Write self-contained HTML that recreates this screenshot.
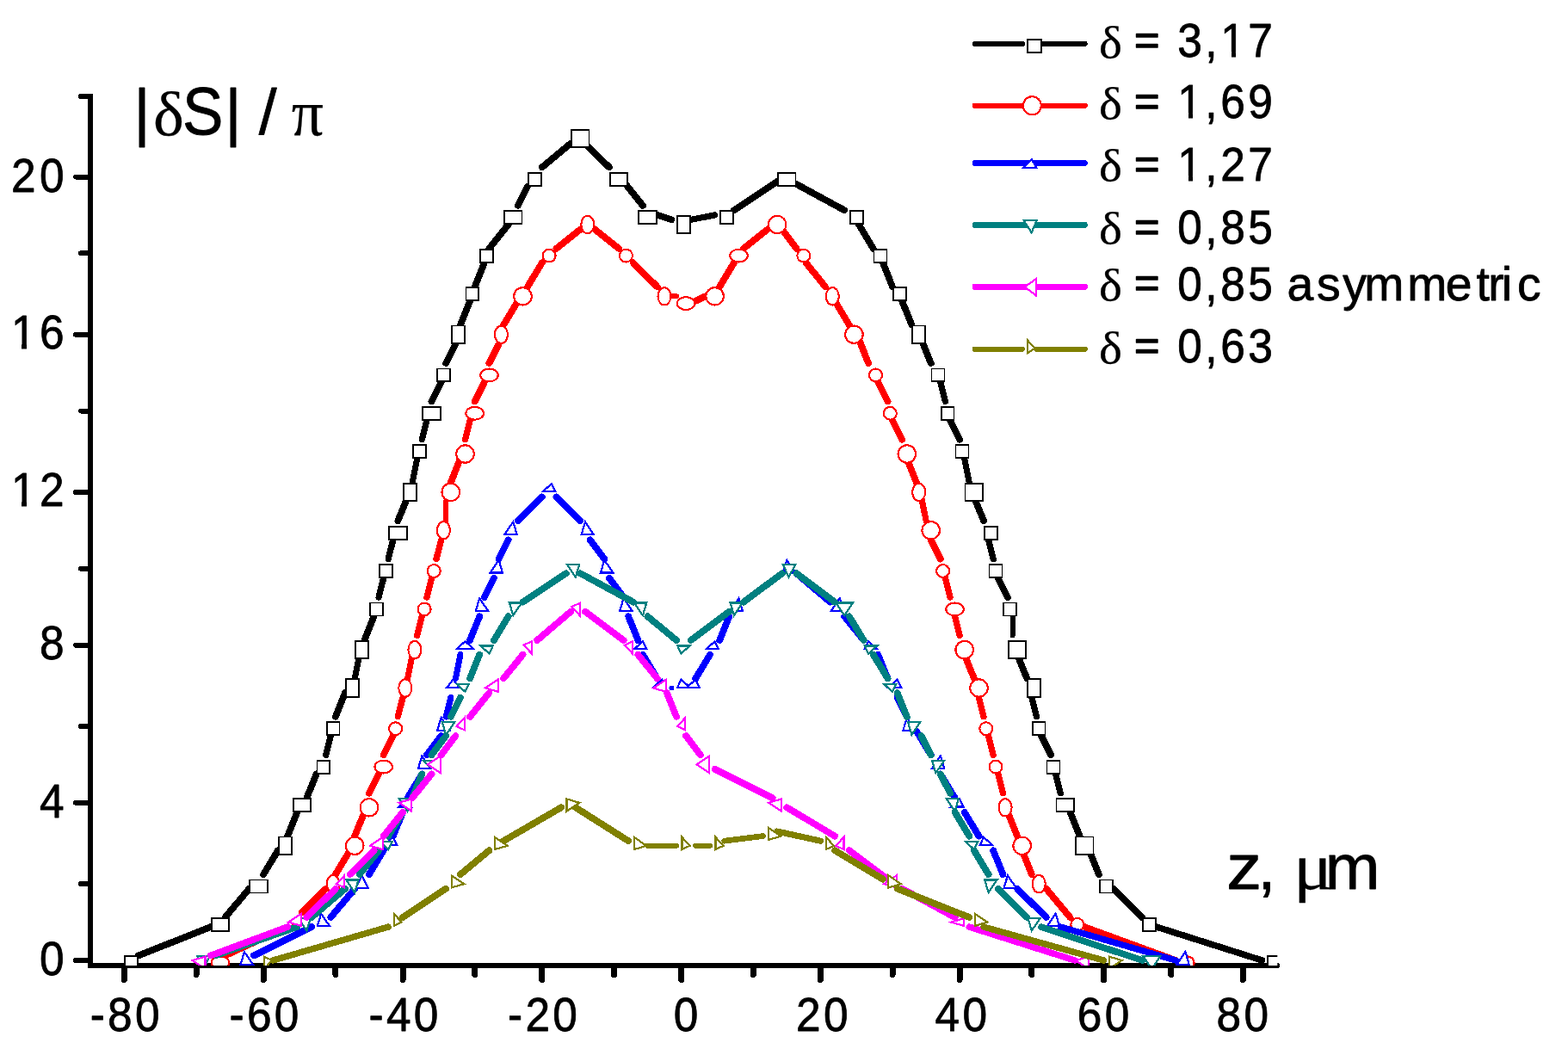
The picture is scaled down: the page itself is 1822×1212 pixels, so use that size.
<!DOCTYPE html>
<html lang="en"><head><meta charset="utf-8"><title>|δS| / π versus z</title>
<style>html,body{margin:0;padding:0;background:#fff}body{width:1822px;height:1212px;overflow:hidden}svg{display:block}text{font-family:"Liberation Sans",sans-serif;fill:#000;stroke:#000;stroke-width:0.8px;stroke-linejoin:round}.sy{font-family:"Liberation Serif",serif;stroke-width:0.25px}</style></head>
<body>
<svg width="1822" height="1212" viewBox="0 0 1822 1212" shape-rendering="crispEdges">
<rect width="1822" height="1212" fill="#fff"/>
<defs><clipPath id="pc"><rect x="105" y="100" width="1379.3" height="1022"/></clipPath></defs>
<rect x="102.1" y="109" width="5.8" height="1016" fill="#000"/><path d="M105 1122 H1484" stroke="#000" stroke-width="5.9" fill="none" stroke-linecap="round"/><g stroke="#000" stroke-width="7" stroke-linecap="round"><line x1="144.4" y1="1124" x2="144.4" y2="1138.5"/><line x1="306.2" y1="1124" x2="306.2" y2="1138.5"/><line x1="468" y1="1124" x2="468" y2="1138.5"/><line x1="629.8" y1="1124" x2="629.8" y2="1138.5"/><line x1="791.6" y1="1124" x2="791.6" y2="1138.5"/><line x1="953.4" y1="1124" x2="953.4" y2="1138.5"/><line x1="1115.1" y1="1124" x2="1115.1" y2="1138.5"/><line x1="1282.5" y1="1124" x2="1282.5" y2="1138.5"/><line x1="1444.3" y1="1124" x2="1444.3" y2="1138.5"/><line x1="228.1" y1="1124" x2="228.1" y2="1132.5"/><line x1="389.9" y1="1124" x2="389.9" y2="1132.5"/><line x1="551.7" y1="1124" x2="551.7" y2="1132.5"/><line x1="713.5" y1="1124" x2="713.5" y2="1132.5"/><line x1="875.2" y1="1124" x2="875.2" y2="1132.5"/><line x1="1037" y1="1124" x2="1037" y2="1132.5"/><line x1="1198.8" y1="1124" x2="1198.8" y2="1132.5"/><line x1="1360.6" y1="1124" x2="1360.6" y2="1132.5"/></g><g stroke="#000" stroke-width="6" stroke-linecap="round"><line x1="88" y1="1116" x2="104" y2="1116"/><line x1="88" y1="932.8" x2="104" y2="932.8"/><line x1="88" y1="749.6" x2="104" y2="749.6"/><line x1="88" y1="571.9" x2="104" y2="571.9"/><line x1="88" y1="388.7" x2="104" y2="388.7"/><line x1="88" y1="205.5" x2="104" y2="205.5"/><line x1="94" y1="1027.2" x2="104" y2="1027.2"/><line x1="94" y1="844" x2="104" y2="844"/><line x1="94" y1="660.7" x2="104" y2="660.7"/><line x1="94" y1="477.5" x2="104" y2="477.5"/><line x1="94" y1="294.3" x2="104" y2="294.3"/><line x1="94" y1="111.9" x2="104" y2="111.9"/></g>
<g clip-path="url(#pc)"><g stroke="#000" stroke-linecap="round" fill="none"><line x1="161.1" y1="1110.4" x2="244.8" y2="1077.1" stroke-width="7.8"/><line x1="261.6" y1="1066" x2="289.5" y2="1032.7" stroke-width="7.8"/><line x1="306.2" y1="1016.1" x2="322.9" y2="988.3" stroke-width="7.8"/><line x1="334.1" y1="971.6" x2="345.2" y2="943.9" stroke-width="7.8"/><line x1="356.4" y1="927.2" x2="367.6" y2="899.5" stroke-width="7.8"/><line x1="378.7" y1="877.3" x2="384.3" y2="855.1" stroke-width="7.3"/><line x1="389.9" y1="832.8" x2="401" y2="805.1" stroke-width="7.8"/><line x1="412.2" y1="788.4" x2="417.8" y2="760.7" stroke-width="7.1"/><line x1="423.4" y1="744" x2="434.5" y2="716.3" stroke-width="7.8"/><line x1="440.1" y1="694" x2="445.7" y2="671.8" stroke-width="7.3"/><line x1="451.2" y1="649.6" x2="456.8" y2="627.4" stroke-width="7.3"/><line x1="462.4" y1="605.2" x2="473.6" y2="577.5" stroke-width="7.8"/><line x1="479.1" y1="560.8" x2="484.7" y2="533" stroke-width="7.1"/><line x1="490.3" y1="510.8" x2="495.9" y2="488.6" stroke-width="7.3"/><line x1="501.5" y1="466.4" x2="512.6" y2="444.2" stroke-width="7.8"/><line x1="518.2" y1="422" x2="529.4" y2="399.8" stroke-width="7.8"/><line x1="534.9" y1="377.6" x2="546.1" y2="349.8" stroke-width="7.8"/><line x1="551.7" y1="333.2" x2="562.8" y2="305.4" stroke-width="7.8"/><line x1="568.4" y1="288.8" x2="590.7" y2="261" stroke-width="7.8"/><line x1="601.9" y1="238.8" x2="613" y2="216.6" stroke-width="7.8"/><line x1="629.8" y1="194.4" x2="663.2" y2="166.6" stroke-width="7.8"/><line x1="680" y1="166.6" x2="707.9" y2="194.4" stroke-width="7.8"/><line x1="724.6" y1="211" x2="746.9" y2="238.8" stroke-width="7.8"/><line x1="763.7" y1="249.9" x2="780.4" y2="255.4" stroke-width="7.6"/><line x1="802.7" y1="255.4" x2="830.6" y2="249.9" stroke-width="7.1"/><line x1="852.9" y1="244.3" x2="903.1" y2="211" stroke-width="7.8"/><line x1="919.9" y1="211" x2="981.2" y2="244.3" stroke-width="7.8"/><line x1="998" y1="261" x2="1014.7" y2="288.8" stroke-width="7.8"/><line x1="1025.9" y1="305.4" x2="1037" y2="333.2" stroke-width="7.8"/><line x1="1048.2" y1="349.8" x2="1059.4" y2="377.6" stroke-width="7.8"/><line x1="1070.5" y1="394.2" x2="1081.7" y2="422" stroke-width="7.8"/><line x1="1092.8" y1="444.2" x2="1098.4" y2="466.4" stroke-width="7.3"/><line x1="1104" y1="488.6" x2="1115.1" y2="510.8" stroke-width="7.8"/><line x1="1120.7" y1="533" x2="1126.3" y2="560.8" stroke-width="7.1"/><line x1="1131.9" y1="577.5" x2="1143" y2="605.2" stroke-width="7.8"/><line x1="1148.6" y1="627.4" x2="1154.2" y2="649.6" stroke-width="7.3"/><line x1="1159.8" y1="671.8" x2="1170.9" y2="694" stroke-width="7.8"/><line x1="1176.5" y1="716.3" x2="1176.5" y2="738.5" stroke-width="6"/><line x1="1182.1" y1="760.7" x2="1193.3" y2="788.4" stroke-width="7.8"/><line x1="1198.8" y1="810.6" x2="1204.4" y2="832.8" stroke-width="7.3"/><line x1="1210" y1="855.1" x2="1221.1" y2="877.3" stroke-width="7.8"/><line x1="1226.7" y1="899.5" x2="1232.3" y2="921.7" stroke-width="7.3"/><line x1="1243.5" y1="943.9" x2="1254.6" y2="971.6" stroke-width="7.8"/><line x1="1265.8" y1="988.3" x2="1276.9" y2="1016.1" stroke-width="7.8"/><line x1="1293.7" y1="1032.7" x2="1327.1" y2="1066" stroke-width="7.8"/><line x1="1343.9" y1="1077.1" x2="1466.6" y2="1116" stroke-width="7.5"/></g><g fill="#fff" stroke="#000" stroke-width="1.8"><rect x="145.3" y="1111.3" width="14.9" height="14.9"/><rect x="245.7" y="1066.9" width="20.5" height="14.9"/><rect x="290.4" y="1022.5" width="20.5" height="14.9"/><rect x="323.8" y="972.5" width="14.9" height="20.4"/><rect x="340.6" y="928.1" width="20.5" height="14.9"/><rect x="368.5" y="883.7" width="14.9" height="14.9"/><rect x="379.6" y="839.3" width="14.9" height="14.9"/><rect x="401.9" y="789.3" width="14.9" height="20.4"/><rect x="413.1" y="744.9" width="14.9" height="20.4"/><rect x="429.8" y="700.5" width="14.9" height="14.9"/><rect x="441" y="656.1" width="14.9" height="14.9"/><rect x="452.1" y="611.7" width="20.5" height="14.9"/><rect x="468.9" y="561.7" width="14.9" height="20.4"/><rect x="480" y="517.3" width="14.9" height="14.9"/><rect x="491.2" y="472.9" width="20.5" height="14.9"/><rect x="507.9" y="428.5" width="14.9" height="14.9"/><rect x="524.7" y="378.5" width="14.9" height="20.4"/><rect x="541.4" y="334.1" width="14.9" height="14.9"/><rect x="558.1" y="289.7" width="14.9" height="14.9"/><rect x="586" y="245.2" width="20.5" height="14.9"/><rect x="613.9" y="200.8" width="14.9" height="14.9"/><rect x="664.1" y="150.9" width="20.5" height="20.4"/><rect x="708.8" y="200.8" width="20.5" height="14.9"/><rect x="742.3" y="245.2" width="20.5" height="14.9"/><rect x="786.9" y="250.8" width="14.9" height="20.4"/><rect x="837.1" y="245.2" width="14.9" height="14.9"/><rect x="904" y="200.8" width="20.5" height="14.9"/><rect x="987.7" y="245.2" width="14.9" height="14.9"/><rect x="1015.6" y="289.7" width="14.9" height="14.9"/><rect x="1037.9" y="334.1" width="14.9" height="14.9"/><rect x="1060.3" y="378.5" width="14.9" height="20.4"/><rect x="1082.6" y="428.5" width="14.9" height="14.9"/><rect x="1093.7" y="472.9" width="14.9" height="14.9"/><rect x="1110.5" y="517.3" width="14.9" height="14.9"/><rect x="1121.6" y="561.7" width="20.5" height="20.4"/><rect x="1143.9" y="611.7" width="14.9" height="14.9"/><rect x="1149.5" y="656.1" width="14.9" height="14.9"/><rect x="1166.3" y="700.5" width="14.9" height="14.9"/><rect x="1171.8" y="744.9" width="20.5" height="20.4"/><rect x="1194.2" y="789.3" width="14.9" height="20.4"/><rect x="1199.7" y="839.3" width="14.9" height="14.9"/><rect x="1216.5" y="883.7" width="14.9" height="14.9"/><rect x="1227.6" y="928.1" width="20.5" height="14.9"/><rect x="1249.9" y="972.5" width="20.5" height="20.4"/><rect x="1277.8" y="1022.5" width="14.9" height="14.9"/><rect x="1328" y="1066.9" width="14.9" height="14.9"/><rect x="1473.1" y="1111.3" width="14.9" height="14.9"/></g><g stroke="#f00" stroke-linecap="round" fill="none"><line x1="261.6" y1="1110.4" x2="334.1" y2="1077.1" stroke-width="7.8"/><line x1="350.8" y1="1060.5" x2="378.7" y2="1032.7" stroke-width="7.8"/><line x1="389.9" y1="1016.1" x2="406.6" y2="988.3" stroke-width="7.8"/><line x1="412.2" y1="971.6" x2="423.4" y2="943.9" stroke-width="7.8"/><line x1="428.9" y1="921.7" x2="440.1" y2="899.5" stroke-width="7.8"/><line x1="445.7" y1="877.3" x2="456.8" y2="855.1" stroke-width="7.8"/><line x1="462.4" y1="832.8" x2="468" y2="810.6" stroke-width="7.3"/><line x1="473.6" y1="788.4" x2="479.1" y2="760.7" stroke-width="7.1"/><line x1="484.7" y1="738.5" x2="490.3" y2="716.3" stroke-width="7.3"/><line x1="495.9" y1="694" x2="501.5" y2="671.8" stroke-width="7.3"/><line x1="507" y1="649.6" x2="512.6" y2="627.4" stroke-width="7.3"/><line x1="518.2" y1="605.2" x2="518.2" y2="583" stroke-width="6"/><line x1="523.8" y1="560.8" x2="534.9" y2="533" stroke-width="7.8"/><line x1="540.5" y1="510.8" x2="546.1" y2="488.6" stroke-width="7.3"/><line x1="551.7" y1="466.4" x2="562.8" y2="444.2" stroke-width="7.8"/><line x1="568.4" y1="422" x2="579.6" y2="399.8" stroke-width="7.8"/><line x1="585.1" y1="377.6" x2="601.9" y2="349.8" stroke-width="7.8"/><line x1="613" y1="333.2" x2="629.8" y2="305.4" stroke-width="7.8"/><line x1="646.5" y1="288.8" x2="674.4" y2="266.5" stroke-width="7.8"/><line x1="691.1" y1="266.5" x2="719" y2="288.8" stroke-width="7.8"/><line x1="735.8" y1="305.4" x2="763.7" y2="333.2" stroke-width="7.8"/><line x1="780.4" y1="344.3" x2="786" y2="344.3" stroke-width="6"/><line x1="808.3" y1="349.8" x2="819.5" y2="344.3" stroke-width="7.8"/><line x1="836.2" y1="333.2" x2="852.9" y2="305.4" stroke-width="7.8"/><line x1="864.1" y1="288.8" x2="892" y2="266.5" stroke-width="7.8"/><line x1="908.7" y1="266.5" x2="925.5" y2="288.8" stroke-width="7.8"/><line x1="936.6" y1="305.4" x2="958.9" y2="333.2" stroke-width="7.8"/><line x1="970.1" y1="349.8" x2="986.8" y2="377.6" stroke-width="7.8"/><line x1="998" y1="394.2" x2="1009.1" y2="422" stroke-width="7.8"/><line x1="1020.3" y1="444.2" x2="1031.5" y2="466.4" stroke-width="7.8"/><line x1="1037" y1="488.6" x2="1048.2" y2="510.8" stroke-width="7.8"/><line x1="1053.8" y1="533" x2="1064.9" y2="560.8" stroke-width="7.8"/><line x1="1070.5" y1="577.5" x2="1076.1" y2="605.2" stroke-width="7.1"/><line x1="1081.7" y1="627.4" x2="1092.8" y2="649.6" stroke-width="7.8"/><line x1="1098.4" y1="671.8" x2="1104" y2="694" stroke-width="7.3"/><line x1="1109.6" y1="716.3" x2="1115.1" y2="738.5" stroke-width="7.3"/><line x1="1120.7" y1="760.7" x2="1131.9" y2="788.4" stroke-width="7.8"/><line x1="1137.5" y1="810.6" x2="1143" y2="832.8" stroke-width="7.3"/><line x1="1148.6" y1="855.1" x2="1154.2" y2="877.3" stroke-width="7.3"/><line x1="1159.8" y1="899.5" x2="1165.4" y2="921.7" stroke-width="7.3"/><line x1="1170.9" y1="943.9" x2="1182.1" y2="971.6" stroke-width="7.8"/><line x1="1187.7" y1="988.3" x2="1198.8" y2="1016.1" stroke-width="7.8"/><line x1="1215.6" y1="1032.7" x2="1243.5" y2="1066" stroke-width="7.8"/><line x1="1260.2" y1="1077.1" x2="1366.2" y2="1116" stroke-width="7.7"/></g><g fill="#fff" stroke="#f00" stroke-width="2.1"><ellipse cx="256" cy="1118.8" rx="10.3" ry="7.4"/><ellipse cx="348" cy="1074.4" rx="7.5" ry="7.4"/><ellipse cx="387.1" cy="1027.2" rx="7.5" ry="10.2"/><ellipse cx="412.2" cy="982.8" rx="10.3" ry="10.2"/><ellipse cx="428.9" cy="938.3" rx="10.3" ry="10.2"/><ellipse cx="445.7" cy="891.1" rx="10.3" ry="7.4"/><ellipse cx="459.6" cy="846.7" rx="7.5" ry="7.4"/><ellipse cx="470.8" cy="799.5" rx="7.5" ry="10.2"/><ellipse cx="481.9" cy="755.1" rx="7.5" ry="10.2"/><ellipse cx="493.1" cy="707.9" rx="7.5" ry="7.4"/><ellipse cx="504.2" cy="663.5" rx="7.5" ry="7.4"/><ellipse cx="515.4" cy="616.3" rx="7.5" ry="10.2"/><ellipse cx="523.8" cy="571.9" rx="10.3" ry="10.2"/><ellipse cx="540.5" cy="527.5" rx="10.3" ry="10.2"/><ellipse cx="551.7" cy="480.3" rx="10.3" ry="7.4"/><ellipse cx="568.4" cy="435.9" rx="10.3" ry="7.4"/><ellipse cx="582.4" cy="388.7" rx="7.5" ry="10.2"/><ellipse cx="607.5" cy="344.3" rx="10.3" ry="10.2"/><ellipse cx="638.1" cy="297.1" rx="7.5" ry="7.4"/><ellipse cx="682.8" cy="261" rx="7.5" ry="10.2"/><ellipse cx="727.4" cy="297.1" rx="7.5" ry="7.4"/><ellipse cx="772" cy="344.3" rx="7.5" ry="10.2"/><ellipse cx="797.1" cy="352.6" rx="10.3" ry="7.4"/><ellipse cx="830.6" cy="344.3" rx="10.3" ry="10.2"/><ellipse cx="858.5" cy="297.1" rx="10.3" ry="7.4"/><ellipse cx="903.1" cy="261" rx="10.3" ry="10.2"/><ellipse cx="933.8" cy="297.1" rx="7.5" ry="7.4"/><ellipse cx="967.3" cy="344.3" rx="7.5" ry="10.2"/><ellipse cx="992.4" cy="388.7" rx="10.3" ry="10.2"/><ellipse cx="1017.5" cy="435.9" rx="7.5" ry="7.4"/><ellipse cx="1034.3" cy="480.3" rx="7.5" ry="7.4"/><ellipse cx="1053.8" cy="527.5" rx="10.3" ry="10.2"/><ellipse cx="1067.7" cy="571.9" rx="7.5" ry="10.2"/><ellipse cx="1081.7" cy="616.3" rx="10.3" ry="10.2"/><ellipse cx="1095.6" cy="663.5" rx="7.5" ry="7.4"/><ellipse cx="1109.6" cy="707.9" rx="10.3" ry="7.4"/><ellipse cx="1120.7" cy="755.1" rx="10.3" ry="10.2"/><ellipse cx="1137.5" cy="799.5" rx="10.3" ry="10.2"/><ellipse cx="1145.8" cy="846.7" rx="7.5" ry="7.4"/><ellipse cx="1157" cy="891.1" rx="7.5" ry="7.4"/><ellipse cx="1168.1" cy="938.3" rx="7.5" ry="10.2"/><ellipse cx="1187.7" cy="982.8" rx="10.3" ry="10.2"/><ellipse cx="1207.2" cy="1027.2" rx="7.5" ry="10.2"/><ellipse cx="1251.8" cy="1074.4" rx="7.5" ry="7.4"/><ellipse cx="1380.1" cy="1118.8" rx="7.5" ry="7.4"/></g><g stroke="#00f" stroke-linecap="round" fill="none"><line x1="295" y1="1110.4" x2="362" y2="1077.1" stroke-width="7.8"/><line x1="384.3" y1="1066" x2="412.2" y2="1032.7" stroke-width="7.8"/><line x1="428.9" y1="1016.1" x2="445.7" y2="988.3" stroke-width="7.8"/><line x1="456.8" y1="971.6" x2="468" y2="943.9" stroke-width="7.8"/><line x1="473.6" y1="927.2" x2="490.3" y2="899.5" stroke-width="7.8"/><line x1="495.9" y1="877.3" x2="512.6" y2="855.1" stroke-width="7.8"/><line x1="518.2" y1="832.8" x2="523.8" y2="810.6" stroke-width="7.3"/><line x1="529.4" y1="788.4" x2="534.9" y2="760.7" stroke-width="7.1"/><line x1="546.1" y1="744" x2="557.2" y2="716.3" stroke-width="7.8"/><line x1="562.8" y1="694" x2="574" y2="671.8" stroke-width="7.8"/><line x1="579.6" y1="649.6" x2="590.7" y2="627.4" stroke-width="7.8"/><line x1="601.9" y1="605.2" x2="629.8" y2="577.5" stroke-width="7.8"/><line x1="646.5" y1="577.5" x2="674.4" y2="605.2" stroke-width="7.8"/><line x1="685.6" y1="627.4" x2="702.3" y2="649.6" stroke-width="7.8"/><line x1="707.9" y1="671.8" x2="724.6" y2="694" stroke-width="7.8"/><line x1="730.2" y1="716.3" x2="741.4" y2="744" stroke-width="7.8"/><line x1="746.9" y1="760.7" x2="763.7" y2="788.4" stroke-width="7.8"/><line x1="780.4" y1="799.5" x2="780.4" y2="799.5" stroke-width="6"/><line x1="808.3" y1="788.4" x2="825" y2="760.7" stroke-width="7.8"/><line x1="836.2" y1="744" x2="847.4" y2="716.3" stroke-width="7.8"/><line x1="864.1" y1="699.6" x2="908.7" y2="666.3" stroke-width="7.8"/><line x1="925.5" y1="666.3" x2="964.5" y2="699.6" stroke-width="7.8"/><line x1="981.2" y1="716.3" x2="1003.6" y2="744" stroke-width="7.8"/><line x1="1020.3" y1="760.7" x2="1031.5" y2="788.4" stroke-width="7.8"/><line x1="1042.6" y1="810.6" x2="1053.8" y2="832.8" stroke-width="7.8"/><line x1="1064.9" y1="849.5" x2="1081.7" y2="877.3" stroke-width="7.8"/><line x1="1092.8" y1="899.5" x2="1109.6" y2="927.2" stroke-width="7.8"/><line x1="1120.7" y1="943.9" x2="1137.5" y2="971.6" stroke-width="7.8"/><line x1="1154.2" y1="988.3" x2="1165.4" y2="1016.1" stroke-width="7.8"/><line x1="1182.1" y1="1032.7" x2="1215.6" y2="1066" stroke-width="7.8"/><line x1="1232.3" y1="1077.1" x2="1366.2" y2="1116" stroke-width="7.4"/></g><g fill="#fff" stroke="#00f" stroke-width="2.2" stroke-miterlimit="10"><polygon points="279.5,1120.8 293.8,1120.8 283.9,1106.1"/><polygon points="368.8,1076.3 383.1,1076.3 373.1,1061.7"/><polygon points="413.4,1031.9 427.7,1031.9 420.6,1017.3"/><polygon points="446.9,982 461.2,982 456.8,972.8"/><polygon points="463.6,937.5 477.9,937.5 470.8,928.4"/><polygon points="485.9,893.1 500.3,893.1 490.3,878.5"/><polygon points="508.2,848.7 522.6,848.7 512.6,834"/><polygon points="519.4,798.7 533.7,798.7 526.6,789.6"/><polygon points="530.6,754.3 550.5,754.3 540.5,745.2"/><polygon points="552.9,709.9 567.2,709.9 557.2,695.2"/><polygon points="569.6,665.5 583.9,665.5 579.6,650.8"/><polygon points="586.3,621.1 600.7,621.1 596.3,606.4"/><polygon points="631,571.1 645.3,571.1 640.9,562"/><polygon points="675.6,621.1 689.9,621.1 680,606.4"/><polygon points="697.9,665.5 712.3,665.5 702.3,650.8"/><polygon points="720.2,709.9 734.6,709.9 724.6,695.2"/><polygon points="737,754.3 751.3,754.3 746.9,745.2"/><polygon points="759.3,798.7 773.6,798.7 769.2,789.6"/><polygon points="787.2,798.7 801.5,798.7 791.6,789.6"/><polygon points="798.3,798.7 812.7,798.7 808.3,789.6"/><polygon points="820.7,754.3 835,754.3 830.6,745.2"/><polygon points="848.6,709.9 862.9,709.9 858.5,695.2"/><polygon points="909.9,665.5 924.3,665.5 914.3,650.8"/><polygon points="965.7,709.9 980,709.9 975.7,695.2"/><polygon points="1004.8,754.3 1019.1,754.3 1009.1,745.2"/><polygon points="1032.7,798.7 1047,798.7 1042.6,789.6"/><polygon points="1049.4,848.7 1063.7,848.7 1053.8,834"/><polygon points="1082.9,893.1 1097.2,893.1 1092.8,878.5"/><polygon points="1105.2,937.5 1119.5,937.5 1115.1,928.4"/><polygon points="1138.7,982 1153,982 1143,972.8"/><polygon points="1166.6,1031.9 1180.9,1031.9 1170.9,1017.3"/><polygon points="1216.8,1076.3 1231.1,1076.3 1226.7,1061.7"/><polygon points="1367.4,1120.8 1381.7,1120.8 1377.4,1106.1"/></g><g stroke="#008080" stroke-linecap="round" fill="none"><line x1="250.4" y1="1110.4" x2="345.2" y2="1077.1" stroke-width="7.6"/><line x1="362" y1="1066" x2="401" y2="1032.7" stroke-width="7.8"/><line x1="417.8" y1="1016.1" x2="440.1" y2="988.3" stroke-width="7.8"/><line x1="451.2" y1="971.6" x2="468" y2="943.9" stroke-width="7.8"/><line x1="479.1" y1="927.2" x2="490.3" y2="899.5" stroke-width="7.8"/><line x1="501.5" y1="877.3" x2="518.2" y2="855.1" stroke-width="7.8"/><line x1="523.8" y1="832.8" x2="534.9" y2="810.6" stroke-width="7.8"/><line x1="546.1" y1="788.4" x2="557.2" y2="760.7" stroke-width="7.8"/><line x1="574" y1="744" x2="590.7" y2="716.3" stroke-width="7.8"/><line x1="607.5" y1="699.6" x2="657.7" y2="666.3" stroke-width="7.8"/><line x1="674.4" y1="666.3" x2="735.8" y2="699.6" stroke-width="7.8"/><line x1="752.5" y1="716.3" x2="786" y2="744" stroke-width="7.8"/><line x1="802.7" y1="744" x2="847.4" y2="710.7" stroke-width="7.8"/><line x1="864.1" y1="699.6" x2="908.7" y2="666.3" stroke-width="7.8"/><line x1="925.5" y1="666.3" x2="970.1" y2="699.6" stroke-width="7.8"/><line x1="986.8" y1="716.3" x2="1003.6" y2="744" stroke-width="7.8"/><line x1="1014.7" y1="760.7" x2="1031.5" y2="788.4" stroke-width="7.8"/><line x1="1042.6" y1="805.1" x2="1053.8" y2="832.8" stroke-width="7.8"/><line x1="1070.5" y1="855.1" x2="1081.7" y2="877.3" stroke-width="7.8"/><line x1="1092.8" y1="899.5" x2="1104" y2="921.7" stroke-width="7.8"/><line x1="1109.6" y1="943.9" x2="1126.3" y2="971.6" stroke-width="7.8"/><line x1="1131.9" y1="988.3" x2="1148.6" y2="1016.1" stroke-width="7.8"/><line x1="1159.8" y1="1032.7" x2="1193.3" y2="1066" stroke-width="7.8"/><line x1="1210" y1="1077.1" x2="1327.1" y2="1116" stroke-width="7.6"/></g><g fill="#fff" stroke="#008080" stroke-width="2.2" stroke-miterlimit="10"><polygon points="229.3,1111.2 243.6,1111.2 236.5,1125.9"/><polygon points="346.4,1066.8 360.8,1066.8 356.4,1081.5"/><polygon points="402.2,1022.4 416.6,1022.4 412.2,1037.1"/><polygon points="441.3,978 455.6,978 451.2,987.1"/><polygon points="463.6,928 477.9,928 473.6,942.7"/><polygon points="491.5,883.6 505.8,883.6 501.5,892.7"/><polygon points="513.8,839.2 528.2,839.2 518.2,853.9"/><polygon points="530.6,794.8 544.9,794.8 540.5,803.9"/><polygon points="558.4,750.4 572.8,750.4 568.4,759.5"/><polygon points="591.9,700.4 606.3,700.4 596.3,715.1"/><polygon points="658.9,656 673.2,656 668.8,670.6"/><polygon points="737,700.4 751.3,700.4 746.9,715.1"/><polygon points="787.2,750.4 801.5,750.4 791.6,759.5"/><polygon points="848.6,700.4 862.9,700.4 852.9,715.1"/><polygon points="909.9,656 924.3,656 916.5,670.6"/><polygon points="971.3,700.4 991.2,700.4 981.2,715.1"/><polygon points="1004.8,750.4 1019.1,750.4 1009.1,759.5"/><polygon points="1027.1,794.8 1041.4,794.8 1037,803.9"/><polygon points="1055,839.2 1069.3,839.2 1059.4,853.9"/><polygon points="1082.9,883.6 1097.2,883.6 1087.3,898.3"/><polygon points="1099.6,928 1113.9,928 1109.6,942.7"/><polygon points="1121.9,978 1136.3,978 1131.9,987.1"/><polygon points="1144.2,1022.4 1158.6,1022.4 1148.6,1037.1"/><polygon points="1194.5,1066.8 1208.8,1066.8 1198.8,1081.5"/><polygon points="1328.3,1111.2 1348.3,1111.2 1338.3,1125.9"/></g><g stroke="#f0f" stroke-linecap="round" fill="none"><line x1="244.8" y1="1110.4" x2="334.1" y2="1077.1" stroke-width="7.7"/><line x1="356.4" y1="1066" x2="389.9" y2="1032.7" stroke-width="7.8"/><line x1="406.6" y1="1016.1" x2="434.5" y2="988.3" stroke-width="7.8"/><line x1="445.7" y1="971.6" x2="468" y2="943.9" stroke-width="7.8"/><line x1="479.1" y1="927.2" x2="501.5" y2="899.5" stroke-width="7.8"/><line x1="512.6" y1="877.3" x2="529.4" y2="855.1" stroke-width="7.8"/><line x1="546.1" y1="832.8" x2="568.4" y2="805.1" stroke-width="7.8"/><line x1="585.1" y1="788.4" x2="607.5" y2="760.7" stroke-width="7.8"/><line x1="624.2" y1="744" x2="663.2" y2="710.7" stroke-width="7.8"/><line x1="680" y1="710.7" x2="724.6" y2="744" stroke-width="7.8"/><line x1="741.4" y1="760.7" x2="763.7" y2="788.4" stroke-width="7.8"/><line x1="774.8" y1="805.1" x2="786" y2="832.8" stroke-width="7.8"/><line x1="797.1" y1="855.1" x2="813.9" y2="877.3" stroke-width="7.8"/><line x1="830.6" y1="893.9" x2="897.6" y2="927.2" stroke-width="7.8"/><line x1="914.3" y1="938.3" x2="970.1" y2="971.6" stroke-width="7.8"/><line x1="986.8" y1="988.3" x2="1031.5" y2="1021.6" stroke-width="7.8"/><line x1="1048.2" y1="1032.7" x2="1109.6" y2="1066" stroke-width="7.8"/><line x1="1126.3" y1="1077.1" x2="1249" y2="1116" stroke-width="7.5"/></g><g fill="#fff" stroke="#f0f" stroke-width="2.2" stroke-miterlimit="10"><polygon points="238.4,1111.6 238.4,1125.9 223.7,1116"/><polygon points="350,1061.7 350,1075.9 335.3,1071.6"/><polygon points="400.2,1017.3 400.2,1031.5 391.1,1027.2"/><polygon points="444.9,972.8 444.9,987.1 430.1,982.8"/><polygon points="478.3,928.4 478.3,942.7 463.6,932.8"/><polygon points="511.8,878.5 511.8,898.3 497.1,888.4"/><polygon points="539.7,834 539.7,848.3 530.6,844"/><polygon points="578.8,789.6 578.8,803.9 564,799.5"/><polygon points="617.8,745.2 617.8,759.5 608.7,749.6"/><polygon points="673.6,700.8 673.6,715.1 664.4,705.2"/><polygon points="735,745.2 735,759.5 725.8,749.6"/><polygon points="774,789.6 774,803.9 759.3,799.5"/><polygon points="796.3,834 796.3,848.3 787.2,844"/><polygon points="824.2,878.5 824.2,898.3 809.5,888.4"/><polygon points="907.9,928.4 907.9,942.7 893.2,932.8"/><polygon points="980.4,972.8 980.4,987.1 971.3,982.8"/><polygon points="1041.8,1017.3 1041.8,1031.5 1027.1,1027.2"/><polygon points="1119.9,1067.2 1119.9,1075.9 1105.2,1071.6"/><polygon points="1265,1111.6 1265,1125.9 1250.2,1116"/></g><g stroke="#808000" stroke-linecap="round" fill="none"><line x1="317.3" y1="1116" x2="451.2" y2="1077.1" stroke-width="7.4"/><line x1="468" y1="1066" x2="518.2" y2="1032.7" stroke-width="7.8"/><line x1="534.9" y1="1016.1" x2="568.4" y2="988.3" stroke-width="7.8"/><line x1="585.1" y1="977.2" x2="652.1" y2="938.3" stroke-width="7.8"/><line x1="668.8" y1="938.3" x2="730.2" y2="977.2" stroke-width="7.8"/><line x1="752.5" y1="982.8" x2="786" y2="982.8" stroke-width="6"/><line x1="808.3" y1="982.8" x2="825" y2="982.8" stroke-width="6"/><line x1="841.8" y1="977.2" x2="886.4" y2="971.6" stroke-width="6.7"/><line x1="903.1" y1="966.1" x2="953.4" y2="977.2" stroke-width="7.2"/><line x1="970.1" y1="988.3" x2="1025.9" y2="1021.6" stroke-width="7.8"/><line x1="1042.6" y1="1032.7" x2="1126.3" y2="1066" stroke-width="7.8"/><line x1="1143" y1="1077.1" x2="1282.5" y2="1116" stroke-width="7.4"/></g><g fill="#fff" stroke="#808000" stroke-width="2.2" stroke-miterlimit="10"><polygon points="307,1111.6 307,1125.9 316.1,1116"/><polygon points="457.6,1061.7 457.6,1075.9 466.8,1071.6"/><polygon points="524.6,1017.3 524.6,1031.5 539.3,1027.2"/><polygon points="574.8,972.8 574.8,987.1 589.5,982.8"/><polygon points="658.5,928.4 658.5,942.7 673.2,932.8"/><polygon points="736.6,972.8 736.6,987.1 751.3,982.8"/><polygon points="792.4,972.8 792.4,987.1 801.5,982.8"/><polygon points="831.4,972.8 831.4,987.1 840.6,982.8"/><polygon points="892.8,961.7 892.8,976 907.5,971.6"/><polygon points="959.7,972.8 959.7,987.1 968.9,982.8"/><polygon points="1032.3,1017.3 1032.3,1031.5 1047,1027.2"/><polygon points="1132.7,1061.7 1132.7,1075.9 1147.4,1071.6"/><polygon points="1288.9,1111.6 1288.9,1125.9 1303.6,1116"/></g></g>
<text transform="translate(146.8 1198) scale(0.93 1)" font-size="55.3" text-anchor="middle" letter-spacing="3.6">-80</text><text transform="translate(308.6 1198) scale(0.93 1)" font-size="55.3" text-anchor="middle" letter-spacing="3.6">-60</text><text transform="translate(470.6 1198) scale(0.93 1)" font-size="55.3" text-anchor="middle" letter-spacing="3.6">-40</text><text transform="translate(632.1 1198) scale(0.93 1)" font-size="55.3" text-anchor="middle" letter-spacing="3.6">-20</text><text transform="translate(798.7 1198) scale(0.93 1)" font-size="55.3" text-anchor="middle" letter-spacing="3.6">0</text><text transform="translate(957 1198) scale(0.93 1)" font-size="55.3" text-anchor="middle" letter-spacing="3.6">20</text><text transform="translate(1118.4 1198) scale(0.93 1)" font-size="55.3" text-anchor="middle" letter-spacing="3.6">40</text><text transform="translate(1283.7 1198) scale(0.93 1)" font-size="55.3" text-anchor="middle" letter-spacing="3.6">60</text><text transform="translate(1445.4 1198) scale(0.93 1)" font-size="55.3" text-anchor="middle" letter-spacing="3.6">80</text><text transform="translate(78.8 222.5) scale(0.93 1)" font-size="55.3" text-anchor="end" letter-spacing="4.6">20</text><text transform="translate(78.8 404.7) scale(0.93 1)" font-size="55.3" text-anchor="end" letter-spacing="4.6">16</text><text transform="translate(78.8 588.1) scale(0.93 1)" font-size="55.3" text-anchor="end" letter-spacing="4.6">12</text><text transform="translate(78.8 766.3) scale(0.93 1)" font-size="55.3" text-anchor="end" letter-spacing="4.6">8</text><text transform="translate(78.8 949.6) scale(0.93 1)" font-size="55.3" text-anchor="end" letter-spacing="4.6">4</text><text transform="translate(78.8 1132.5) scale(0.93 1)" font-size="55.3" text-anchor="end" letter-spacing="4.6">0</text>
<text y="156.3"><tspan x="155.3" font-size="75">|</tspan><tspan x="178.1" font-size="72.5" textLength="35.87" lengthAdjust="spacingAndGlyphs" class="sy" dy="0.7">δ</tspan><tspan x="211.9" font-size="78.5" textLength="47.39" lengthAdjust="spacingAndGlyphs" dy="-0.7">S</tspan><tspan x="261.2" font-size="75">|</tspan> <tspan x="300.8" font-size="75">/</tspan> <tspan x="338.8" font-size="76" textLength="37.22" lengthAdjust="spacingAndGlyphs" class="sy" dy="0.7">π</tspan></text><text y="1033"><tspan x="1425.2" font-size="75" textLength="40.88" lengthAdjust="spacingAndGlyphs">z</tspan><tspan x="1461.6" font-size="75">,</tspan> <tspan x="1503" font-size="76" textLength="45.63" lengthAdjust="spacingAndGlyphs" class="sy">μ</tspan><tspan x="1539.7" font-size="75" textLength="63.72" lengthAdjust="spacingAndGlyphs">m</tspan></text>
<line x1="1132.5" y1="51" x2="1188.3" y2="51" stroke="#000" stroke-width="5.9" stroke-linecap="round"/><line x1="1212" y1="51" x2="1260.8" y2="51" stroke="#000" stroke-width="5.9" stroke-linecap="round"/><rect x="1193.9" y="45.8" width="16.2" height="15.2" fill="#fff" stroke="#000" stroke-width="1.8"/><text y="66"><tspan x="1277" font-size="52.5" textLength="26.96" lengthAdjust="spacingAndGlyphs" class="sy" dy="0.5">δ</tspan> <tspan x="1318.3" dy="-3.7" font-size="48.11" textLength="29.07" lengthAdjust="spacingAndGlyphs" style="stroke-width:1.7px">=</tspan> <tspan x="1368.2" dy="3.2" font-size="55.3" letter-spacing="3.8" textLength="114.24" lengthAdjust="spacingAndGlyphs">3,17</tspan></text><line x1="1132.5" y1="122.8" x2="1260.8" y2="122.8" stroke="#f00" stroke-width="5.9" stroke-linecap="round"/><ellipse cx="1199.4" cy="122.75" rx="10.5" ry="10.6" fill="#fff" stroke="#f00" stroke-width="2.1"/><text y="137.2"><tspan x="1277" font-size="52.5" textLength="26.96" lengthAdjust="spacingAndGlyphs" class="sy" dy="0.5">δ</tspan> <tspan x="1318.3" dy="-3.7" font-size="48.11" textLength="29.07" lengthAdjust="spacingAndGlyphs" style="stroke-width:1.7px">=</tspan> <tspan x="1368.2" dy="3.2" font-size="55.3" letter-spacing="3.8" textLength="114.24" lengthAdjust="spacingAndGlyphs">1,69</tspan></text><line x1="1133.2" y1="189.5" x2="1260.1" y2="189.5" stroke="#00f" stroke-width="7.3" stroke-linecap="round"/><polygon points="1189.8,194.6 1204.2,194.6 1198.8,185" fill="#fff" stroke="#00f" stroke-width="2.2" stroke-miterlimit="10"/><text y="209.9"><tspan x="1277" font-size="52.5" textLength="26.96" lengthAdjust="spacingAndGlyphs" class="sy" dy="0.5">δ</tspan> <tspan x="1318.3" dy="-3.7" font-size="48.11" textLength="29.07" lengthAdjust="spacingAndGlyphs" style="stroke-width:1.7px">=</tspan> <tspan x="1368.2" dy="3.2" font-size="55.3" letter-spacing="3.8" textLength="114.24" lengthAdjust="spacingAndGlyphs">1,27</tspan></text><line x1="1133.2" y1="261.4" x2="1260.1" y2="261.4" stroke="#008080" stroke-width="7.3" stroke-linecap="round"/><polygon points="1189.8,256.3 1204.5,256.3 1198.6,270.3" fill="#fff" stroke="#008080" stroke-width="2.2" stroke-miterlimit="10"/><text y="282.7"><tspan x="1277" font-size="52.5" textLength="26.96" lengthAdjust="spacingAndGlyphs" class="sy" dy="0.5">δ</tspan> <tspan x="1318.3" dy="-3.7" font-size="48.11" textLength="29.07" lengthAdjust="spacingAndGlyphs" style="stroke-width:1.7px">=</tspan> <tspan x="1368.2" dy="3.2" font-size="55.3" letter-spacing="3.8" textLength="114.24" lengthAdjust="spacingAndGlyphs">0,85</tspan></text><line x1="1133.3" y1="333.2" x2="1260.1" y2="333.2" stroke="#f0f" stroke-width="7.4" stroke-linecap="round"/><polygon points="1204.1,324 1204.1,343.6 1190.8,333.3" fill="#fff" stroke="#f0f" stroke-width="2.2" stroke-miterlimit="10"/><text y="348.5"><tspan x="1277" font-size="52.5" textLength="26.96" lengthAdjust="spacingAndGlyphs" class="sy" dy="0.5">δ</tspan> <tspan x="1318.3" dy="-3.7" font-size="48.11" textLength="29.07" lengthAdjust="spacingAndGlyphs" style="stroke-width:1.7px">=</tspan> <tspan x="1368.2" dy="3.2" font-size="55.3" letter-spacing="3.8" textLength="114.24" lengthAdjust="spacingAndGlyphs">0,85</tspan> <tspan x="1495.4 1529.9 1560.3 1585.3 1635.3 1679.8 1715.6 1729.2 1744.7 1763.1" font-size="55.3">asymmetric</tspan></text><line x1="1132.8" y1="405.8" x2="1187.5" y2="405.8" stroke="#808000" stroke-width="6.5" stroke-linecap="round"/><line x1="1205" y1="405.8" x2="1260.5" y2="405.8" stroke="#808000" stroke-width="6.5" stroke-linecap="round"/><polygon points="1194,395.5 1194,410.2 1202.8,404.6" fill="#fff" stroke="#808000" stroke-width="2.2" stroke-miterlimit="10"/><text y="421.2"><tspan x="1277" font-size="52.5" textLength="26.96" lengthAdjust="spacingAndGlyphs" class="sy" dy="0.5">δ</tspan> <tspan x="1318.3" dy="-3.7" font-size="48.11" textLength="29.07" lengthAdjust="spacingAndGlyphs" style="stroke-width:1.7px">=</tspan> <tspan x="1368.2" dy="3.2" font-size="55.3" letter-spacing="3.8" textLength="114.24" lengthAdjust="spacingAndGlyphs">0,63</tspan></text>
<g fill="#fff"><rect x="14.5" y="399.1" width="10.8" height="8.2"/><rect x="30.8" y="399.1" width="10.8" height="8.2"/><rect x="14.5" y="582.1" width="10.8" height="8.2"/><rect x="30.8" y="582.1" width="10.8" height="8.2"/><rect x="1420.5" y="60.1" width="10.8" height="8.2"/><rect x="1435.8" y="60.1" width="10.8" height="8.2"/><rect x="1370.5" y="131.1" width="10.8" height="8.2"/><rect x="1385.8" y="131.1" width="10.8" height="8.2"/><rect x="1370.5" y="204.1" width="10.8" height="8.2"/><rect x="1385.8" y="204.1" width="10.8" height="8.2"/></g>
</svg>
</body></html>
